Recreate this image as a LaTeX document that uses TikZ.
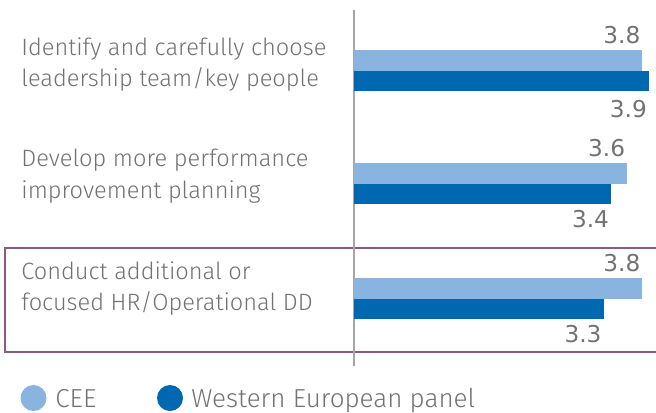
\documentclass[tikz,border=0pt]{standalone}
\usepackage{fontspec}
\setmainfont{Fira Sans Light}
\newfontfamily\valfont{DejaVu Sans}
\usetikzlibrary{positioning}

\definecolor{ceeblue}{HTML}{88B4DF}
\definecolor{webblue}{HTML}{0068B0}
\definecolor{labelgray}{HTML}{727272}
\definecolor{axisgray}{HTML}{A6A6A6}
\definecolor{boxpurple}{HTML}{8A5A7C}

\begin{document}
\begin{tikzpicture}[x=0.5pt, y=-0.5pt,
    catlabel/.style={anchor=north west, align=left, inner sep=0pt, text=labelgray, font=\fontsize{11.8}{15.6}\selectfont},
    vallabel/.style={anchor=base east, inner sep=0pt, text=labelgray, font=\valfont\fontsize{11.6}{14}\selectfont},
    legdot/.style={circle, inner sep=0pt, minimum size=13pt},
    legtext/.style={anchor=base west, inner sep=0pt, text=labelgray, font=\fontsize{13}{15}\selectfont}]
    \useasboundingbox (0,0) rectangle (656,412);

    % Highlight frame
    \draw [boxpurple, line width=1pt] (5,248) rectangle (660,352);

    % Axis
    \draw [axisgray, line width=0.6pt] (354,10) -- (354,366);

    % Category labels
    \node [catlabel] (leaders) at (21,37) {Identify and carefully choose\\leadership team/key people};
    \node [catlabel] (planning) at (21,149) {Develop more performance\\improvement planning};
    \node [catlabel] (hrdd) at (21,261) {Conduct additional or\\focused HR/Operational DD};

    % Bars: top y / CEE / Western panel / gap below
    \foreach \y/\a/\b/\g/\n in {50/3.8/3.9/67/1, 163/3.6/3.4/64/2, 278/3.8/3.3/64/3} {
        \fill [ceeblue] (354,\y) rectangle ({354+75.7*\a},\y+20.5);
        \fill [webblue] (354,\y+20.5) rectangle ({354+75.7*\b},\y+41);
        \node [vallabel] (cee\n) at ({354+75.7*\a-1},\y-7) {\a};
        \node [vallabel] (web\n) at ({354+75.7*\b-2},\y+\g) {\b};
    }

    % Legend
    \node [legdot, fill=ceeblue] (legcee) at (33.5,398) {};
    \node [legtext] (legceetext) at (55,407) {CEE};
    \node [legdot, fill=webblue] (legweb) at (170,398) {};
    \node [legtext] (legwebtext) at (191,407) {Western European panel};
\end{tikzpicture}
\end{document}
